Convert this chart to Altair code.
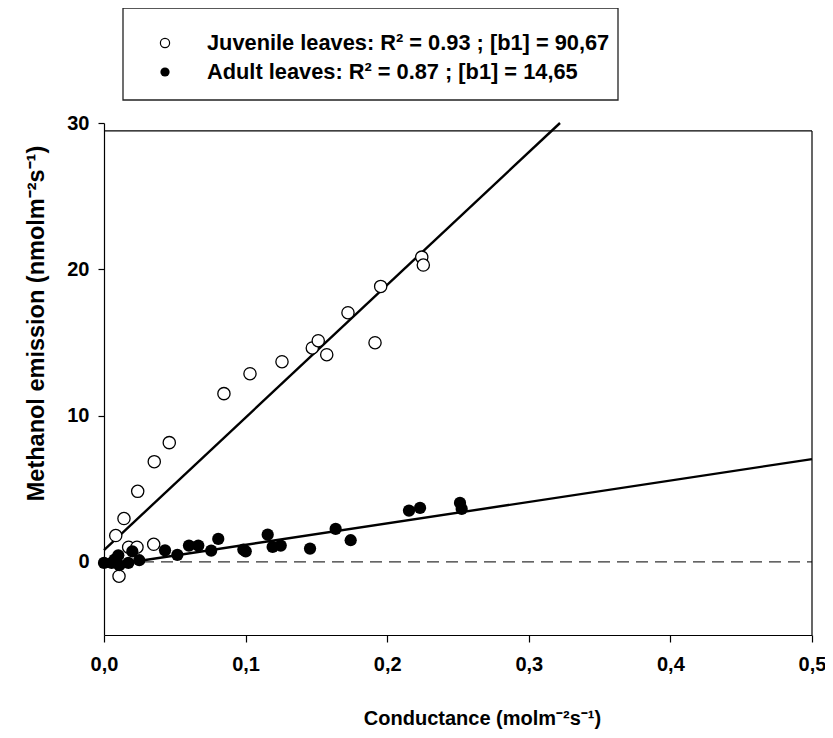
import altair as alt
import pandas as pd

# ---- data ----
juv_x = [0.0083, 0.0141, 0.0238, 0.0355, 0.0461, 0.0847, 0.1031, 0.1257, 0.1471, 0.1513,
         0.1573, 0.1723, 0.1954, 0.1914, 0.2244, 0.2255, 0.0174, 0.0233, 0.0351, 0.0106]
juv_y = [1.80, 2.96, 4.82, 6.85, 8.15, 11.50, 12.86, 13.68, 14.62, 15.12,
         14.16, 17.03, 18.83, 14.98, 20.83, 20.29, 1.00, 1.00, 1.20, -0.98]

adu_x = [0.0000, 0.0054, 0.0101, 0.0108, 0.0172, 0.0200, 0.0249, 0.0431, 0.0518, 0.0600,
         0.0666, 0.0807, 0.0757, 0.0984, 0.1001, 0.1156, 0.1191, 0.1248, 0.1455, 0.1636,
         0.1742, 0.2154, 0.2232, 0.2514, 0.2526, 0.0075]
adu_y = [-0.07, -0.07, 0.45, -0.23, -0.07, 0.72, 0.11, 0.79, 0.48, 1.11,
         1.11, 1.57, 0.77, 0.84, 0.72, 1.86, 1.02, 1.11, 0.91, 2.25,
         1.48, 3.50, 3.69, 4.03, 3.62, 0.15]

groups = ["Juvenile leaves", "Adult leaves"]
slopes = [90.67, 14.65]
intercepts = [0.8, -0.3]
legend_labels = ["Juvenile leaves: R\u00b2 = 0.93 ; [b1] = 90,67",
                 "Adult leaves: R\u00b2 = 0.87 ; [b1] = 14,65"]

x_ticks = [0.0, 0.1, 0.2, 0.3, 0.4, 0.5]
y_ticks = [0, 10, 20, 30]
x_domain = [0.0, 0.5]
y_domain = [-5, 30]
frame_top = 29.46

FONT = "Liberation Sans"

# ---- tables ----
juv = pd.DataFrame({"x": juv_x, "y": juv_y})
adu = pd.DataFrame({"x": adu_x, "y": adu_y})

line_rows = []
for g, b1, b0 in zip(groups, slopes, intercepts):
    x_end = min(x_domain[1], (y_domain[1] - b0) / b1)
    for xv in (x_domain[0], x_end):
        line_rows.append({"group": g, "x": xv, "y": b0 + b1 * xv})
lines = pd.DataFrame(line_rows)

X = alt.X("x:Q", scale=alt.Scale(domain=x_domain, nice=False, zero=False),
          axis=alt.Axis(values=x_ticks, labelFlush=False,
                        labelExpr="replace(format(datum.value, '.1f'), '.', ',')",
                        title="Conductance (molm\u207b\u00b2s\u207b\u00b9)",
                        tickSize=7, labelPadding=12, titleFontSize=20,
                        titleX=378, titleY=83, titleAlign="center", titleBaseline="middle"))
Y = alt.Y("y:Q", scale=alt.Scale(domain=y_domain, nice=False, zero=False),
          axis=alt.Axis(values=y_ticks, format="d", labelFlush=False,
                        title="Methanol emission (nmolm\u207b\u00b2s\u207b\u00b9)",
                        tickSize=6, labelPadding=9, titleFontSize=23.5,
                        titleX=-68, titleY=200, titleAlign="center", titleBaseline="middle"))

zero_df = pd.DataFrame({"x": [x_domain[0]], "x2": [x_domain[1]], "y": [0.0]})
top_df = pd.DataFrame({"x": [x_domain[0]], "x2": [x_domain[1]], "y": [frame_top]})
right_df = pd.DataFrame({"x": [x_domain[1]], "y": [y_domain[0]], "y2": [frame_top]})

zero_line = alt.Chart(zero_df).mark_rule(color="#333333", strokeWidth=1.3, strokeDash=[12, 7]).encode(
    x=X, x2="x2:Q", y=Y)
top_frame = alt.Chart(top_df).mark_rule(color="black", strokeWidth=1.2).encode(
    x=X, x2="x2:Q", y=Y)
right_frame = alt.Chart(right_df).mark_rule(color="black", strokeWidth=1.2).encode(
    x=X, y=Y, y2="y2:Q")

reg = alt.Chart(lines).mark_line(color="black", strokeWidth=2.4, clip=False).encode(
    x=X, y=Y, detail="group:N")

juv_pts = alt.Chart(juv).mark_circle(color="white", stroke="black", strokeWidth=1.3,
                                     opacity=1, size=150).encode(x=X, y=Y)
adu_pts = alt.Chart(adu).mark_circle(color="black", opacity=1, size=150).encode(x=X, y=Y)

# ---- manual legend (pixel positions relative to plot area) ----
leg_df = pd.DataFrame({"label": legend_labels})
leg_box = alt.Chart(pd.DataFrame({"a": [0]})).mark_rect(
    fill="white", stroke="#222222", strokeWidth=1.3).encode(
    x=alt.value(19), x2=alt.value(514), y=alt.value(-115), y2=alt.value(-23))
leg_sym1 = alt.Chart(pd.DataFrame({"a": [0]})).mark_circle(
    color="white", stroke="black", strokeWidth=1.2, opacity=1, size=85).encode(
    x=alt.value(61), y=alt.value(-80))
leg_sym2 = alt.Chart(pd.DataFrame({"a": [0]})).mark_circle(
    color="black", opacity=1, size=85).encode(x=alt.value(61), y=alt.value(-51))
leg_txt1 = alt.Chart(leg_df.iloc[[0]]).mark_text(
    align="left", baseline="middle", font=FONT, fontSize=21.8, fontWeight="bold", color="black").encode(
    x=alt.value(103), y=alt.value(-80), text="label:N")
leg_txt2 = alt.Chart(leg_df.iloc[[1]]).mark_text(
    align="left", baseline="middle", font=FONT, fontSize=21.8, fontWeight="bold", color="black").encode(
    x=alt.value(103), y=alt.value(-51), text="label:N")

chart = alt.layer(
    zero_line, top_frame, right_frame, reg, juv_pts, adu_pts,
    leg_box, leg_sym1, leg_sym2, leg_txt1, leg_txt2
).properties(
    width=708, height=512,
    autosize=alt.AutoSizeParams(type="none"),
    padding={"left": 96, "top": 115, "right": 13, "bottom": 95},
).configure_view(stroke=None).configure_axis(
    grid=False, domainColor="black", tickColor="black", domainWidth=1.2, tickWidth=1.2,
    labelFont=FONT, labelFontSize=20, labelFontWeight="bold", labelColor="black",
    titleFont=FONT, titleFontSize=20.5, titleFontWeight="bold", titleColor="black",
)

chart.save("out.html", embed_options={"renderer": "svg", "actions": False})
